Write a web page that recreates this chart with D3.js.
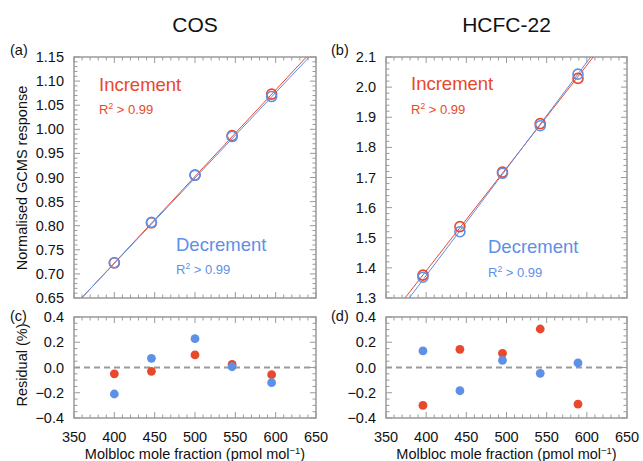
<!DOCTYPE html>
<html><head><meta charset="utf-8">
<script src="https://cdn.jsdelivr.net/npm/d3@7/dist/d3.min.js"></script>
<style>body{margin:0;background:#fff}svg{display:block;font-family:"Liberation Sans",Arial,Helvetica,sans-serif}</style>
</head><body><svg id="c" width="643" height="461"></svg>
<script>
// ---- data ----
const cosX = [400, 446, 500, 546, 595];
const cosInc = [0.723, 0.806, 0.905, 0.987, 1.073];
const cosDec = [0.723, 0.807, 0.905, 0.985, 1.068];
const cosResInc = [-0.05, -0.03, 0.10, 0.025, -0.057];
const cosResDec = [-0.21, 0.073, 0.228, 0.006, -0.12];
const cosFitInc = [0.001795, 0.0047];   // slope, intercept
const cosFitDec = [0.001772, 0.013];

const hcfcX = [396, 442, 495, 542, 589];
const hcfcInc = [1.376, 1.537, 1.718, 1.879, 2.029];
const hcfcDec = [1.369, 1.520, 1.714, 1.872, 2.043];
const hcfcResInc = [-0.30, 0.144, 0.112, 0.305, -0.29];
const hcfcResDec = [0.131, -0.184, 0.057, -0.046, 0.036];
const hcfcFitInc = [0.003413, 0.0249];
const hcfcFitDec = [0.003543, -0.0428];

const xTicks = [350, 400, 450, 500, 550, 600, 650];
const cosYTicks = [0.65, 0.70, 0.75, 0.80, 0.85, 0.90, 0.95, 1.00, 1.05, 1.10, 1.15];
const hcfcYTicks = [1.3, 1.4, 1.5, 1.6, 1.7, 1.8, 1.9, 2.0, 2.1];
const resYTicks = [-0.4, -0.2, 0.0, 0.2, 0.4];
const titles = ["COS", "HCFC-22"];

const RED = "#e8482c", BLUE = "#5d90e8", GRAY = "#9a9a9a";
const svg = d3.select("#c");

const cols = [{x0: 74, x1: 316}, {x0: 386, x1: 627}];
const topP = {y0: 57, y1: 298}, botP = {y0: 317, y1: 418};

function frame(g, x, y, xMajor, xMinorStep, yMajor, yMinorStep, fmtY, showX, id) {
  const [X0, X1] = x.range(), [Y1, Y0] = y.range();
  g.append("defs").append("clipPath").attr("id", id).append("rect")
    .attr("x", X0).attr("y", Y0).attr("width", X1 - X0).attr("height", Y1 - Y0);
  const xd = x.domain(), yd = y.domain();
  const xMin = d3.range(xd[0], xd[1] + 1e-9, xMinorStep);
  const yMin = d3.range(0, Math.round((yd[1] - yd[0]) / yMinorStep) + 1).map(i => yd[0] + i * yMinorStep);
  const tk = g.append("g").attr("stroke", GRAY).attr("stroke-width", 1);
  xMin.forEach(v => {
    const px = x(v), isMaj = xMajor.some(m => Math.abs(m - v) < 1e-6), L = isMaj ? 6 : 3.5;
    tk.append("line").attr("x1", px).attr("x2", px).attr("y1", Y1).attr("y2", Y1 - L);
    tk.append("line").attr("x1", px).attr("x2", px).attr("y1", Y0).attr("y2", Y0 + L);
  });
  yMin.forEach(v => {
    const py = y(v), isMaj = yMajor.some(m => Math.abs(m - v) < 1e-6), L = isMaj ? 6 : 3.5;
    tk.append("line").attr("y1", py).attr("y2", py).attr("x1", X0).attr("x2", X0 + L);
    tk.append("line").attr("y1", py).attr("y2", py).attr("x1", X1).attr("x2", X1 - L);
  });
  g.append("rect").attr("x", X0).attr("y", Y0).attr("width", X1 - X0).attr("height", Y1 - Y0)
    .attr("fill", "none").attr("stroke", GRAY).attr("stroke-width", 1.5);
  g.append("g").selectAll("text").data(yMajor).join("text")
    .attr("x", X0 - 10).attr("y", d => y(d)).attr("dy", "0.35em").attr("text-anchor", "end")
    .attr("font-size", 14.5).attr("fill", "#111").text(fmtY);
  if (showX) {
    g.append("g").selectAll("text").data(xMajor).join("text")
      .attr("x", d => x(d)).attr("y", Y1 + 24).attr("text-anchor", "middle")
      .attr("font-size", 14.5).attr("fill", "#111").text(d => d);
  }
}

const sets = [
  {X: cosX, inc: cosInc, dec: cosDec, rInc: cosResInc, rDec: cosResDec, fI: cosFitInc, fD: cosFitDec,
   yT: cosYTicks, yMinor: 0.01, fmt: d3.format(".2f")},
  {X: hcfcX, inc: hcfcInc, dec: hcfcDec, rInc: hcfcResInc, rDec: hcfcResDec, fI: hcfcFitInc, fD: hcfcFitDec,
   yT: hcfcYTicks, yMinor: 0.02, fmt: d3.format(".1f")}
];
const letters = [["(a)", "(c)"], ["(b)", "(d)"]];
const labX = [10, 331];

sets.forEach((s, i) => {
  const c = cols[i];
  const x = d3.scaleLinear().domain([350, 650]).range([c.x0, c.x1]);
  const yT = d3.scaleLinear().domain([s.yT[0], s.yT[s.yT.length - 1]]).range([topP.y1, topP.y0]);
  const yB = d3.scaleLinear().domain([-0.4, 0.4]).range([botP.y1, botP.y0]);

  // title
  svg.append("text").attr("x", (c.x0 + c.x1) / 2).attr("y", 32).attr("text-anchor", "middle")
    .attr("font-size", 21).attr("fill", "#111").text(titles[i]);

  // top panel
  const gT = svg.append("g");
  frame(gT, x, yT, xTicks, 10, s.yT, s.yMinor, s.fmt, false, "clipT" + i);
  const clipT = gT.append("g").attr("clip-path", `url(#clipT${i})`);
  [[s.fI, RED], [s.fD, BLUE]].forEach(([f, col]) => {
    const line = d3.line().x(d => x(d)).y(d => yT(f[0] * d + f[1]));
    clipT.append("path").datum([340, 660]).attr("d", line).attr("fill", "none")
      .attr("stroke", col).attr("stroke-width", 1);
  });
  [[s.inc, RED], [s.dec, BLUE]].forEach(([vals, col]) => {
    clipT.append("g").selectAll("circle").data(vals).join("circle")
      .attr("cx", (d, k) => x(s.X[k])).attr("cy", d => yT(d)).attr("r", 5)
      .attr("fill", "none").attr("stroke", col).attr("stroke-width", 1.6);
  });
  gT.append("text").attr("x", c.x0 + 25).attr("y", i === 0 ? 91 : 90).attr("font-size", 18.5)
    .attr("fill", RED).text("Increment");
  gT.append("text").attr("x", c.x0 + 25).attr("y", 114).attr("font-size", 13).attr("fill", RED)
    .html('R<tspan dy="-5" font-size="8.5">2</tspan><tspan dy="5"> &gt; 0.99</tspan>');
  const dx = 102;
  gT.append("text").attr("x", c.x0 + dx).attr("y", i === 0 ? 251 : 253).attr("font-size", 18.5)
    .attr("fill", BLUE).text("Decrement");
  gT.append("text").attr("x", c.x0 + dx).attr("y", i === 0 ? 274 : 277).attr("font-size", 13).attr("fill", BLUE)
    .html('R<tspan dy="-5" font-size="8.5">2</tspan><tspan dy="5"> &gt; 0.99</tspan>');

  // bottom panel
  const gB = svg.append("g");
  frame(gB, x, yB, xTicks, 10, resYTicks, 0.05, d3.format(".1f"), true, "clipB" + i);
  gB.append("line").attr("x1", c.x0).attr("x2", c.x1).attr("y1", yB(0)).attr("y2", yB(0))
    .attr("stroke", GRAY).attr("stroke-width", 2).attr("stroke-dasharray", "6,4");
  [[s.rInc, RED], [s.rDec, BLUE]].forEach(([vals, col]) => {
    gB.append("g").selectAll("circle").data(vals).join("circle")
      .attr("cx", (d, k) => x(s.X[k])).attr("cy", d => yB(d)).attr("r", 4.4).attr("fill", col);
  });
  gB.append("text").attr("x", (c.x0 + c.x1) / 2).attr("y", 459).attr("text-anchor", "middle")
    .attr("font-size", 14.5).attr("fill", "#111")
    .html('Molbloc mole fraction (pmol mol<tspan dy="-5" font-size="9.5">\u22121</tspan><tspan dy="5">)</tspan>');

  // panel letters
  svg.append("text").attr("x", labX[i]).attr("y", 55).attr("font-size", 14.5).attr("fill", "#111").text(letters[i][0]);
  svg.append("text").attr("x", labX[i]).attr("y", 321).attr("font-size", 14.5).attr("fill", "#111").text(letters[i][1]);
});

// y axis labels
svg.append("text").attr("transform", "translate(27,178) rotate(-90)").attr("text-anchor", "middle")
  .attr("font-size", 14.5).attr("fill", "#111").text("Normalised GCMS response");
svg.append("text").attr("transform", "translate(27,365) rotate(-90)").attr("text-anchor", "middle")
  .attr("font-size", 14.5).attr("fill", "#111").text("Residual (%)");
</script></body></html>
